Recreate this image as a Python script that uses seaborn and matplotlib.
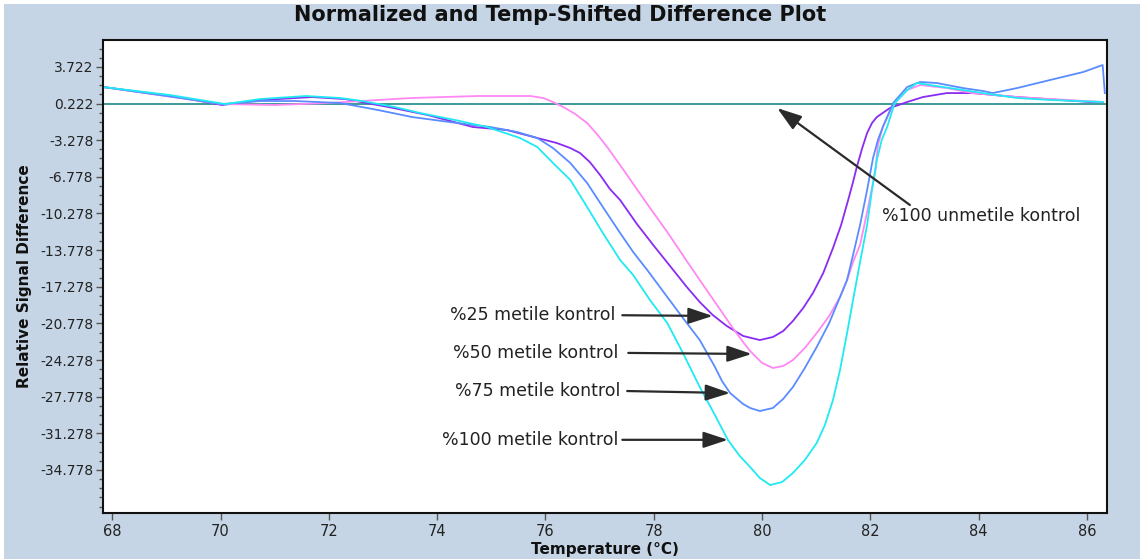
import numpy as np
import pandas as pd
import matplotlib
matplotlib.use("Agg")
import matplotlib.pyplot as plt
from matplotlib.patches import Rectangle
from matplotlib.ticker import AutoMinorLocator
import seaborn as sns

# ---------------- data ----------------
cyan_x = [67.83, 69.07, 70.09, 70.73, 71.58, 72.21, 72.62, 73.22, 73.69, 74.33, 74.92, 75.53,
          75.85, 76.14, 76.46, 76.77, 77.06, 77.38, 77.62, 77.93, 78.25, 78.54, 78.85, 79.13,
          79.37, 79.59, 79.78, 79.96, 80.15, 80.37, 80.57, 80.79, 81.01, 81.16, 81.31, 81.44,
          81.57, 81.68, 81.81, 81.94, 82.03, 82.12, 82.21, 82.31, 82.45, 82.68, 82.86, 83.10,
          83.71, 84.08, 84.71, 85.32, 86.29]
cyan_y = [1.80, 1.03, 0.17, 0.65, 0.94, 0.75, 0.46, -0.11, -0.69, -1.35, -2.02, -3.07,
          -3.93, -5.46, -7.08, -9.66, -12.15, -14.73, -16.16, -18.55, -20.74, -23.61, -26.86, -29.53,
          -31.92, -33.45, -34.50, -35.55, -36.22, -35.93, -35.07, -33.83, -32.20, -30.49, -28.10, -25.23,
          -21.70, -18.55, -14.92, -11.38, -8.04, -5.17, -3.26, -2.02, 0.27, 1.51, 2.18, 1.99,
          1.51, 1.22, 0.75, 0.56, 0.37]

blue_x = [67.83, 68.89, 70.03, 70.73, 71.38, 72.21, 72.91, 73.54, 74.37, 74.98, 75.48, 75.85,
          76.14, 76.46, 76.77, 77.06, 77.38, 77.62, 77.88, 78.25, 78.54, 78.85, 79.13, 79.26,
          79.41, 79.54, 79.65, 79.78, 79.96, 80.20, 80.39, 80.57, 80.79, 81.01, 81.24, 81.44,
          81.57, 81.68, 81.81, 81.94, 82.05, 82.14, 82.23, 82.42, 82.68, 82.92, 83.23, 83.71,
          84.08, 84.26, 84.71, 85.32, 85.93, 86.29, 86.33]
blue_y = [1.80, 1.03, 0.17, 0.46, 0.46, 0.27, -0.40, -1.07, -1.64, -2.02, -2.50, -3.07,
          -4.03, -5.46, -7.37, -9.66, -12.15, -13.96, -15.68, -18.26, -20.27, -22.37, -24.94, -26.28,
          -27.43, -28.00, -28.48, -28.86, -29.15, -28.86, -28.00, -26.86, -25.04, -23.03, -20.74, -18.26,
          -16.64, -14.25, -11.38, -8.04, -4.98, -3.26, -2.02, 0.27, 1.80, 2.28, 2.18, 1.70,
          1.42, 1.22, 1.70, 2.47, 3.23, 3.90, 1.22]

purple_x = [67.83, 69.22, 70.03, 70.77, 71.69, 72.30, 73.10, 73.83, 74.66, 75.29, 75.85, 76.21,
            76.46, 76.64, 76.82, 77.01, 77.19, 77.38, 77.69, 77.99, 78.36, 78.61, 78.85, 79.09,
            79.35, 79.65, 79.96, 80.20, 80.39, 80.57, 80.76, 80.94, 81.13, 81.31, 81.46, 81.59,
            81.68, 81.75, 81.85, 81.94, 82.03, 82.12, 82.36, 82.68, 82.97, 83.41, 83.89, 84.71,
            86.05, 86.29]
purple_y = [1.80, 0.84, 0.08, 0.56, 0.84, 0.65, -0.11, -0.88, -2.02, -2.31, -3.07, -3.55,
            -4.03, -4.51, -5.37, -6.61, -7.94, -9.00, -11.29, -13.29, -15.68, -17.30, -18.74, -19.98,
            -21.03, -21.98, -22.37, -22.08, -21.51, -20.55, -19.31, -17.88, -15.97, -13.58, -11.38, -9.00,
            -7.28, -5.84, -4.03, -2.60, -1.64, -1.07, -0.21, 0.37, 0.84, 1.22, 1.22, 0.84,
            0.37, 0.37]

pink_x = [67.83, 68.61, 70.03, 71.01, 71.99, 72.91, 73.54, 74.74, 75.72, 75.96, 76.14, 76.33,
          76.55, 76.77, 76.95, 77.14, 77.43, 77.88, 78.25, 78.61, 78.85, 79.22, 79.46, 79.65,
          79.78, 80.00, 80.20, 80.39, 80.57, 80.79, 81.01, 81.24, 81.44, 81.57, 81.68, 81.81,
          81.94, 82.09, 82.14, 82.23, 82.42, 82.68, 82.92, 83.41, 83.89, 84.71, 86.29]
pink_y = [1.80, 1.22, 0.17, 0.08, 0.27, 0.56, 0.75, 0.94, 0.94, 0.75, 0.37, -0.11,
          -0.78, -1.64, -2.69, -3.93, -6.03, -9.38, -12.05, -14.82, -16.64, -19.41, -21.22, -22.56,
          -23.42, -24.56, -25.04, -24.85, -24.28, -23.13, -21.70, -20.07, -18.26, -16.64, -14.92, -13.29,
          -10.14, -6.32, -3.74, -2.02, 0.08, 1.51, 1.99, 1.70, 1.22, 0.84, 0.37]

unmet_level = 0.222

series_names = ["%25 metile kontrol", "%50 metile kontrol",
                "%75 metile kontrol", "%100 metile kontrol"]
series_colors = ["#8A2BF2", "#FF88F4", "#5A8CFF", "#1FEAF2"]
unmet_name = "%100 unmetile kontrol"

ytick_values = [3.722, 0.222, -3.278, -6.778, -10.278, -13.778, -17.278,
                -20.778, -24.278, -27.778, -31.278, -34.778]
xtick_values = [68, 70, 72, 74, 76, 78, 80, 82, 84, 86]

title = "Normalized and Temp-Shifted Difference Plot"
xlabel = "Temperature (\u00b0C)"
ylabel = "Relative Signal Difference"

# annotation label positions (text anchor, arrow start, arrow tip)
ann_text = [(77.29, -20.0), (77.34, -23.6), (77.38, -27.24), (77.34, -31.9)]
ann_start = [(77.42, -20.0), (77.53, -23.6), (77.51, -27.24), (77.42, -31.9)]
ann_tip = [(79.09, -20.07), (79.81, -23.7), (79.41, -27.43), (79.37, -31.9)]
unmet_text = (82.21, -10.52)
unmet_start = (82.73, -9.47)
unmet_tip = (80.28, -0.21)

# ---------------- figure ----------------
W, H = 1140, 559
fig = plt.figure(figsize=(W / 100, H / 100), dpi=100)
fig.patch.set_facecolor("white")
fig.patches.append(Rectangle((4 / W, 0), 1, 1 - 4 / H, transform=fig.transFigure,
                             facecolor="#C5D5E5", edgecolor="none", zorder=-10))

ax = fig.add_axes([103 / W, 1 - 513 / H, (1107 - 103) / W, (513 - 40) / H])
ax.set_facecolor("white")

frames = []
for name, xs, ys in zip(series_names, [purple_x, pink_x, blue_x, cyan_x],
                        [purple_y, pink_y, blue_y, cyan_y]):
    frames.append(pd.DataFrame({"Temperature": xs, "Signal": ys, "Sample": name}))
df = pd.concat(frames, ignore_index=True)

ax.axhline(unmet_level, color="#3C9A9A", lw=1.4, zorder=1)
sns.lineplot(data=df, x="Temperature", y="Signal", hue="Sample",
             hue_order=series_names,
             palette=dict(zip(series_names, series_colors)),
             estimator=None, sort=True, lw=1.3, legend=False, ax=ax, zorder=2)
for ln in ax.get_lines():
    ln.set_solid_joinstyle("round")

ax.set_xlim(67.83, 86.37)
ax.set_ylim(-38.89, 6.29)

ax.set_xticks(xtick_values)
ax.set_xticklabels([str(v) for v in xtick_values])
ax.set_yticks(ytick_values)
ax.set_yticklabels([f"{v:.3f}" for v in ytick_values])
ax.yaxis.set_minor_locator(AutoMinorLocator(4))

for sp in ax.spines.values():
    sp.set_color("#111111")
    sp.set_linewidth(1.5)

ax.tick_params(axis="y", which="major", length=5, width=1, color="#555555",
               labelsize=10, labelcolor="#222222", pad=2)
ax.tick_params(axis="y", which="minor", length=3, width=1, color="#555555")
ax.tick_params(axis="x", which="major", length=5, width=1, color="#555555",
               labelsize=10.5, labelcolor="#222222", pad=3)

ax.set_xlabel(xlabel, fontsize=11, fontweight="bold", labelpad=2, color="#111111")
ax.set_ylabel(ylabel, fontsize=11, fontweight="bold", labelpad=6, color="#111111")

fig.text(560 / W, 1 - 15 / H, title, ha="center", va="center",
         fontsize=15, fontweight="bold", color="#111111")

arrow_kw = dict(arrowstyle="-|>,head_length=1.0,head_width=0.33", color="#2A2A2A",
                lw=1.6, mutation_scale=15, shrinkA=0, shrinkB=0)
for name, tp, st, tip in zip(series_names, ann_text, ann_start, ann_tip):
    ax.text(tp[0], tp[1], name, ha="right", va="center", fontsize=12.5, color="#222222")
    ax.annotate("", xy=tip, xytext=st, arrowprops=arrow_kw)

ax.text(unmet_text[0], unmet_text[1], unmet_name, ha="left", va="center",
        fontsize=12.5, color="#222222")
ax.annotate("", xy=unmet_tip, xytext=unmet_start, arrowprops=arrow_kw)

fig.savefig("out.png", dpi=100, facecolor=fig.get_facecolor())
